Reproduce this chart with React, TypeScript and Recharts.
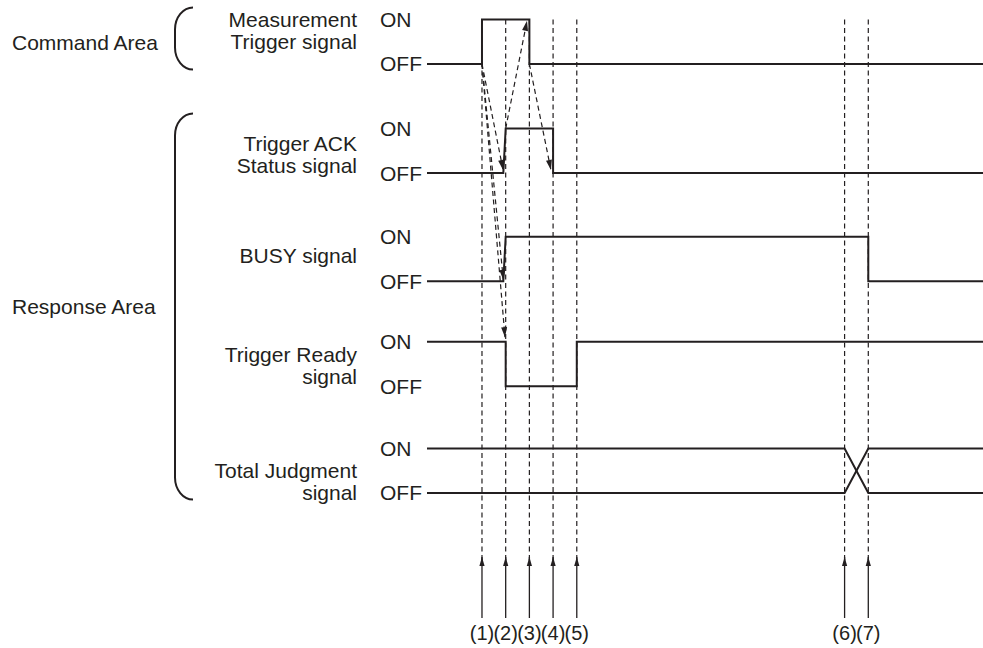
import { LineChart, Line, XAxis, YAxis } from "recharts";

const WIDTH = 983;
const HEIGHT = 648;
const LABEL_COL = 427;
const INK = "#231f20";
const FONT = "'Liberation Sans', Arial, Helvetica, sans-serif";

// time axis: 1 unit = spacing between marks (1) and (2)
const T_START = -2.32;
const T_END = 21.14;
// level axis: 1 unit = one OFF -> ON swing
const Y_MIN = -13.124;
const Y_MAX = 1.438;

// OFF level of each signal row (ON = base + 1)
const rowBase = [0, -2.45, -4.88, -7.24, -9.64];

const eventTimes = [0, 1, 2, 3, 4, 15.3, 16.3];
const eventLabels = ["(1)", "(2)", "(3)", "(4)", "(5)", "(6)", "(7)"];

const areaNames = ["Command Area", "Response Area"];
const signalNames = [
  ["Measurement", "Trigger signal"],
  ["Trigger ACK", "Status signal"],
  ["BUSY signal"],
  ["Trigger Ready", "signal"],
  ["Total Judgment", "signal"],
];

// waveforms: time of each vertex and level (0 = OFF, 1 = ON)
const triggerTimes = [T_START, 0, 0, 2, 2, T_END];
const triggerLevels = [0, 0, 1, 1, 0, 0];
const ackTimes = [T_START, 0.9, 1, 3, 3, T_END];
const ackLevels = [0, 0, 1, 1, 0, 0];
const busyTimes = [T_START, 0.9, 1, 16.3, 16.3, T_END];
const busyLevels = [0, 0, 1, 1, 0, 0];
const readyTimes = [T_START, 1, 1, 4, 4, T_END];
const readyLevels = [1, 1, 0, 0, 1, 1];
const judgeTimes = [T_START, 15.3, 16.3, T_END];
const judgeLevelsA = [1, 1, 0, 0];
const judgeLevelsB = [0, 0, 1, 1];

// cause -> effect arrows: [time, row, level]
const causeFrom = [[0, 0, 0], [0, 0, 0], [0, 0, 0], [1, 1, 1], [2, 0, 0]];
const causeTo = [[0.89, 1, 0.07], [0.9, 2, 0.03], [0.97, 3, 1.1], [1.9, 0, 0.97], [2.91, 1, 0.07]];

const GUIDE_TOP = 1;
const GUIDE_BOTTOM = -11.19;
const ARROW_TIP = -11.08;
const ARROW_TAIL = -12.45;

const wave = (times: number[], levels: number[], row: number) =>
  times.map((t, i) => ({ t, y: rowBase[row] + levels[i] }));

const pt = ([t, row, level]: number[]) => ({ t, y: rowBase[row] + level });

function arrowDot(len: number, half: number) {
  let prev = { cx: 0, cy: 0 };
  return (p: any) => {
    const { cx, cy, index } = p;
    if (index === 0) {
      prev = { cx, cy };
      return <g key={`d${index}`} />;
    }
    const a = Math.atan2(cy - prev.cy, cx - prev.cx);
    const bx = cx - len * Math.cos(a);
    const by = cy - len * Math.sin(a);
    const px = -Math.sin(a) * half;
    const py = Math.cos(a) * half;
    return (
      <path
        key={`d${index}`}
        d={`M${cx},${cy}L${bx + px},${by + py}L${bx - px},${by - py}Z`}
        fill={INK}
      />
    );
  };
}

function bracket(x0: number, x1: number, top: number, bottom: number) {
  const rx = x1 - x0;
  const ry = 22;
  const k = 0.552;
  return `M${x1},${top} C${x1 - k * rx},${top} ${x0},${top + ry - k * ry} ${x0},${top + ry}` +
    ` L${x0},${bottom - ry} C${x0},${bottom - ry + k * ry} ${x1 - k * rx},${bottom} ${x1},${bottom}`;
}

// top/bottom of each area bracket and label baseline, relative to the first row's ON tick
const areaRows = [0, 1];
const areaSpan = [[-12, 50, 31], [-15, 371, 185]];
const nameOffset = [8, 22, 26, 20, 30];

const textStyle = { fontFamily: FONT, fontSize: 21, fill: INK };

function LevelTick(props: any) {
  const { x, y, payload } = props;
  const v = payload.value;
  const row = rowBase.findIndex((b) => Math.abs(b + 1 - v) < 1e-6);
  const isOn = row >= 0;
  const level = (
    <text x={x - 47} y={y + 7.5} {...textStyle}>{isOn ? "ON" : "OFF"}</text>
  );
  if (!isOn) return <g>{level}</g>;
  const area = areaRows.indexOf(row);
  return (
    <g>
      {level}
      {signalNames[row].map((s, i) => (
        <text key={s} x={x - 70} y={y + nameOffset[row] + i * 22} textAnchor="end" {...textStyle}>
          {s}
        </text>
      ))}
      {area >= 0 && (
        <g>
          <text x={x - 415} y={y + areaSpan[area][2]} {...textStyle}>{areaNames[area]}</text>
          <path
            d={bracket(x - 252, x - 234, y + areaSpan[area][0], y + areaSpan[area][1])}
            fill="none" stroke={INK} strokeWidth={2}
          />
        </g>
      )}
    </g>
  );
}

function EventTick(props: any) {
  const { x, payload } = props;
  const i = eventTimes.findIndex((t) => Math.abs(t - payload.value) < 1e-6);
  return (
    <text x={x} y={HEIGHT - 8} textAnchor="middle" fontFamily={FONT} fontSize={20} fill={INK}>
      {eventLabels[i]}
    </text>
  );
}

const signals = [
  wave(triggerTimes, triggerLevels, 0),
  wave(ackTimes, ackLevels, 1),
  wave(busyTimes, busyLevels, 2),
  wave(readyTimes, readyLevels, 3),
  wave(judgeTimes, judgeLevelsA, 4),
  wave(judgeTimes, judgeLevelsB, 4),
];

export default function App() {
  return (
    <div style={{ position: "absolute", left: 0, top: 0, background: "#fff" }}>
      <LineChart width={WIDTH} height={HEIGHT} margin={{ top: 0, right: 0, bottom: 0, left: 0 }}>
        <XAxis
          type="number" dataKey="t" domain={[T_START, T_END]} allowDataOverflow
          ticks={eventTimes} interval={0} mirror
          axisLine={false} tickLine={false} tickSize={0} tickMargin={0}
          tick={EventTick}
        />
        <YAxis
          type="number" domain={[Y_MIN, Y_MAX]} allowDataOverflow
          ticks={rowBase.flatMap((b) => [b + 1, b])} interval={0} width={LABEL_COL}
          axisLine={false} tickLine={false} tickSize={0} tickMargin={0}
          tick={LevelTick}
        />
        {eventTimes.map((t) => (
          <Line
            key={`g${t}`} data={[{ t, y: GUIDE_TOP }, { t, y: GUIDE_BOTTOM }]}
            dataKey="y" type="linear" stroke={INK} strokeWidth={1.2} strokeDasharray="5 3.5"
            dot={false} activeDot={false} isAnimationActive={false}
          />
        ))}
        {eventTimes.map((t) => (
          <Line
            key={`a${t}`} data={[{ t, y: ARROW_TAIL }, { t, y: ARROW_TIP }]}
            dataKey="y" type="linear" stroke={INK} strokeWidth={1.3}
            dot={arrowDot(9, 2.6)} activeDot={false} isAnimationActive={false}
          />
        ))}
        {signals.map((d, i) => (
          <Line
            key={`s${i}`} data={d} dataKey="y" type="linear" stroke={INK} strokeWidth={2}
            dot={false} activeDot={false} isAnimationActive={false}
          />
        ))}
        {causeFrom.map((f, i) => (
          <Line
            key={`c${i}`} data={[pt(f), pt(causeTo[i])]} dataKey="y" type="linear"
            stroke={INK} strokeWidth={1.2} strokeDasharray="5 3.5"
            dot={arrowDot(10, 3)} activeDot={false} isAnimationActive={false}
          />
        ))}
      </LineChart>
    </div>
  );
}
